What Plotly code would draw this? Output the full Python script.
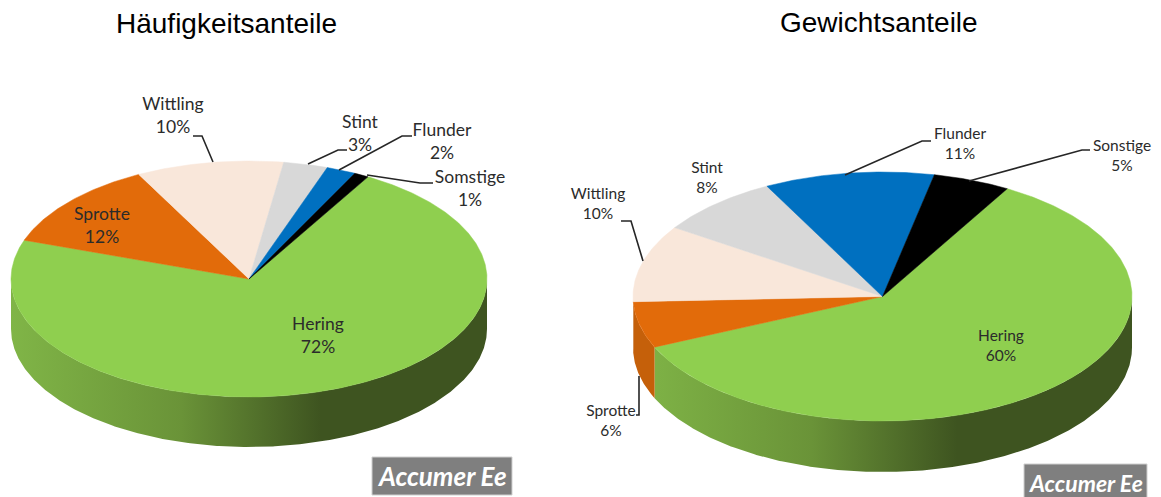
import numpy as np
import plotly.graph_objects as go

# ---- data ----
title_left = "Häufigkeitsanteile"
title_right = "Gewichtsanteile"
names_left = ["Hering", "Sprotte", "Wittling", "Stint", "Flunder", "Somstige"]
values_left = [72, 12, 10, 3, 2, 1]
names_right = ["Hering", "Sprotte", "Wittling", "Stint", "Flunder", "Sonstige"]
values_right = [60, 6, 10, 8, 11, 5]
badge_text = "Accumer Ee"

# ---- style ----
top_colors = ["#8fcf4f", "#e26b0a", "#f9e7da", "#d8d8d8", "#0070c0", "#000000"]
side_colors = [None, "#c5600a", "#d8c8bc", "#bbbbbb", "#00609f", "#000000"]
green_side = [[0, "#80b547"], [0.55, "#6a9338"], [1, "#3e5420"]]
START_ANGLE = 60.0

LEFT = dict(cx=249, cy=279, rx=238, ry=118, depth=50, font=17.5)
RIGHT = dict(cx=882.5, cy=296.5, rx=249.5, ry=124.5, depth=51, font=15.5)

left_label_pos = [(318, 337), (102, 227), (173, 117), (360, 135), (442, 143), (470, 190)]
right_label_pos = [(1001, 347), (611, 422), (598, 205), (707, 179), (960, 145), (1122, 157)]

left_leaders = [
    [(193, 136), (202, 136), (213, 162)],
    [(347, 150), (338, 150), (308, 164)],
    [(412, 136), (402, 136), (339, 170)],
    [(433, 183), (420, 183), (367, 175)],
]
right_leaders = [
    [(931, 141), (922, 141), (845, 175)],
    [(1090, 150), (1082, 150), (969, 181)],
    [(621, 221), (631, 221), (643, 261)],
    [(636, 415), (639, 415), (639, 376)],
]

fig = go.Figure()


def arc(g, a, b, dy=0.0, n=None):
    n = n or max(3, int(abs(a - b) * 2))
    t = np.radians(np.linspace(a, b, n))
    return g["cx"] + g["rx"] * np.cos(t), g["cy"] - g["ry"] * np.sin(t) + dy


def draw_pie(g, names, values, label_pos, leaders):
    total = sum(values)
    a = START_ANGLE
    spans = []
    for v in values:
        b = a - 360.0 * v / total
        spans.append((a, b))
        a = b
    # side wall: only the front half (angles between 0 and -180) shows
    for i, (a, b) in enumerate(spans):
        s, e = min(a, 0), max(b, -180)
        if s <= e:
            continue
        x1, y1 = arc(g, s, e)
        x2, y2 = arc(g, e, s, g["depth"])
        kw = dict(fillcolor=side_colors[i])
        line_col = side_colors[i]
        if side_colors[i] is None:
            kw = dict(fillgradient=dict(type="horizontal", colorscale=green_side,
                                        start=g["cx"] - g["rx"],
                                        stop=g["cx"] + 0.3 * g["rx"]))
            line_col = "rgba(0,0,0,0)"
        fig.add_trace(go.Scatter(x=np.r_[x1, x2], y=np.r_[y1, y2], mode="lines", fill="toself",
                                 line=dict(width=0, color=line_col), hoverinfo="skip", **kw))
    # top surface
    for i, (a, b) in enumerate(spans):
        x, y = arc(g, a, b)
        fig.add_trace(go.Scatter(x=np.r_[g["cx"], x, g["cx"]], y=np.r_[g["cy"], y, g["cy"]],
                                 mode="lines", fill="toself", fillcolor=top_colors[i],
                                 line=dict(width=0.5, color=top_colors[i]), hoverinfo="skip"))
    # leader lines
    for pts in leaders:
        fig.add_trace(go.Scatter(x=[p[0] for p in pts], y=[p[1] for p in pts], mode="lines",
                                 line=dict(width=1.6, color="#262626"), hoverinfo="skip"))
    # labels
    fig.add_trace(go.Scatter(
        x=[p[0] for p in label_pos], y=[p[1] for p in label_pos], mode="text",
        text=[f"{n}<br>{v}%" for n, v in zip(names, values)], textposition="middle center",
        textfont=dict(family="Lato", size=g["font"], color="#2b2b2b"), hoverinfo="skip"))


draw_pie(LEFT, names_left, values_left, left_label_pos, left_leaders)
draw_pie(RIGHT, names_right, values_right, right_label_pos, right_leaders)

shapes = [
    dict(type="rect", xref="x", yref="y", x0=372, x1=512, y0=457, y1=495,
         fillcolor="#7f7f7f", line=dict(width=1, color="#cfcfcf"), layer="below"),
    dict(type="rect", xref="x", yref="y", x0=1024, x1=1147, y0=464, y1=499,
         fillcolor="#7f7f7f", line=dict(width=1, color="#cfcfcf"), layer="below"),
]


def note(x, y, text, size, family, color="#000000", bold_italic=False):
    t = f"<b><i>{text}</i></b>" if bold_italic else text
    return dict(x=x, y=y, xref="x", yref="y", text=t, showarrow=False,
                xanchor="center", yanchor="middle",
                font=dict(family=family, size=size, color=color))


annotations = [
    note(226, 23, title_left, 28, "Liberation Sans"),
    note(879, 22, title_right, 28, "Liberation Sans"),
    note(442, 476, badge_text, 26, "Lato", "#ffffff", True),
    note(1086, 483, badge_text, 23, "Lato", "#ffffff", True),
]

fig.update_layout(
    width=1161, height=497, margin=dict(l=0, r=0, t=0, b=0),
    paper_bgcolor="white", plot_bgcolor="white", showlegend=False,
    xaxis=dict(range=[0, 1161], visible=False, fixedrange=True),
    yaxis=dict(range=[497, 0], visible=False, fixedrange=True),
    shapes=shapes, annotations=annotations,
)

fig.write_html("out.html", config={"displayModeBar": False},
               post_script="document.body.style.margin='0';document.body.style.overflow='hidden';")
